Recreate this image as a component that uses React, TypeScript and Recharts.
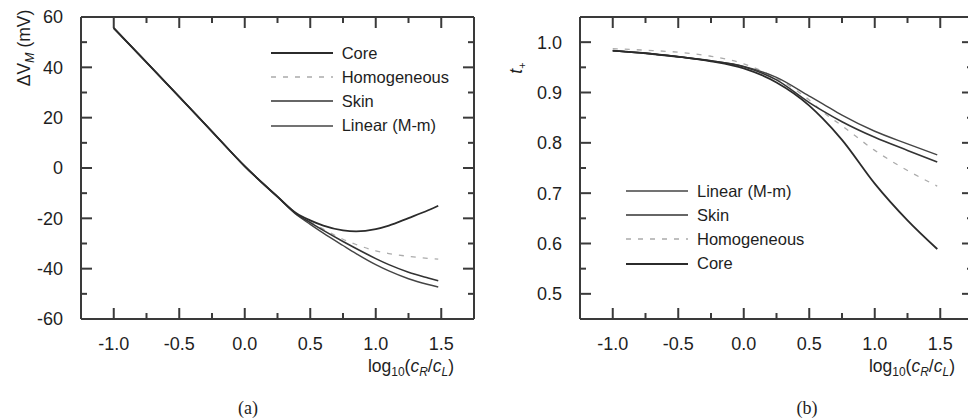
import React from 'react';
import { LineChart, Line, XAxis, YAxis, Legend } from 'recharts';

const FONT = '"Liberation Sans", Arial, Helvetica, sans-serif';
const INK = '#3a3a3a';
const TXT = '#1e1e1e';

// ---------- Panel (a): ΔV_M vs log10(cR/cL) ----------
const xA = [-1, -0.75, -0.5, -0.25, 0, 0.25, 0.4, 0.5, 0.6, 0.75, 0.85, 1.0, 1.1, 1.25, 1.4, 1.477];
const coreA = [55.6, 42.0, 28.3, 14.5, 0.7, -11.4, -18.2, -20.8, -22.9, -24.8, -25.2, -24.3, -22.9, -19.9, -16.8, -15.0];
const homogA = [55.6, 42.0, 28.3, 14.5, 0.7, -11.4, -18.4, -21.4, -24.3, -28.3, -30.4, -32.9, -34.0, -35.1, -35.9, -36.2];
const skinA = [55.6, 42.0, 28.3, 14.5, 0.7, -11.4, -18.5, -21.7, -24.8, -29.2, -32.0, -36.0, -38.4, -41.4, -43.7, -44.8];
const linearA = [55.6, 42.0, 28.3, 14.5, 0.7, -11.5, -18.8, -22.4, -25.9, -30.8, -34.0, -38.4, -40.9, -44.0, -46.3, -47.3];

// ---------- Panel (b): t+ vs log10(cR/cL) ----------
const xB = [-1, -0.75, -0.5, -0.25, 0, 0.25, 0.5, 0.6, 0.75, 1.0, 1.25, 1.477];
const linearB = [0.983, 0.978, 0.971, 0.963, 0.952, 0.930, 0.893, 0.878, 0.855, 0.823, 0.798, 0.776];
const skinB = [0.983, 0.978, 0.971, 0.963, 0.951, 0.925, 0.880, 0.864, 0.842, 0.811, 0.785, 0.762];
const homogB = [0.987, 0.984, 0.980, 0.972, 0.957, 0.928, 0.885, 0.862, 0.834, 0.785, 0.745, 0.714];
const coreB = [0.983, 0.978, 0.971, 0.962, 0.948, 0.920, 0.874, 0.849, 0.806, 0.719, 0.646, 0.589];

// ---------- ticks ----------
const xTicks = [-1, -0.75, -0.5, -0.25, 0, 0.25, 0.5, 0.75, 1, 1.25, 1.5];
const yTicksA = [-60, -50, -40, -30, -20, -10, 0, 10, 20, 30, 40, 50, 60];
const yTicksB = [0.5, 0.55, 0.6, 0.65, 0.7, 0.75, 0.8, 0.85, 0.9, 0.95, 1.0];

const legendOrderA = ['core', 'homog', 'skin', 'linear'];
const legendOrderB = ['linear', 'skin', 'homog', 'core'];

const dataA = xA.map((x, i) => ({ x, core: coreA[i], homog: homogA[i], skin: skinA[i], linear: linearA[i] }));
const dataB = xB.map((x, i) => ({ x, core: coreB[i], homog: homogB[i], skin: skinB[i], linear: linearB[i] }));

const SERIES: Record<string, { name: string; stroke: string; width: number; dash?: string }> = {
  core: { name: 'Core', stroke: '#2b2b2b', width: 1.8 },
  homog: { name: 'Homogeneous', stroke: '#ababab', width: 1.3, dash: '5 7' },
  skin: { name: 'Skin', stroke: '#333333', width: 1.6 },
  linear: { name: 'Linear (M-m)', stroke: '#454545', width: 1.4 },
};

const MAJ = 11;
const MIN = 6;
const isHalf = (v: number) => Math.abs(v * 2 - Math.round(v * 2)) < 1e-6;

const BottomTick = (p: any) => {
  const v = p.payload.value;
  const major = isHalf(v);
  return (
    <g>
      <line x1={p.x} x2={p.x} y1={p.y} y2={p.y - (major ? MAJ : MIN)} stroke={INK} strokeWidth={2} />
      {major && (
        <text x={p.x} y={p.y + 31} textAnchor="middle" fontSize={18} fontFamily={FONT} fill={TXT}>
          {v.toFixed(1)}
        </text>
      )}
    </g>
  );
};

const TopTick = (p: any) => {
  const major = isHalf(p.payload.value);
  return <line x1={p.x} x2={p.x} y1={p.y} y2={p.y + (major ? MAJ : MIN)} stroke={INK} strokeWidth={2} />;
};

const makeLeftTick = (isMajor: (v: number) => boolean, fmt: (v: number) => string) => (p: any) => {
  const v = p.payload.value;
  const major = isMajor(v);
  return (
    <g>
      <line x1={p.x} x2={p.x + (major ? MAJ : MIN)} y1={p.y} y2={p.y} stroke={INK} strokeWidth={2} />
      {major && (
        <text x={p.x - 18} y={p.y} dy="0.36em" textAnchor="end" fontSize={18} fontFamily={FONT} fill={TXT}>
          {fmt(v)}
        </text>
      )}
    </g>
  );
};

const makeRightTick = (isMajor: (v: number) => boolean) => (p: any) => {
  const major = isMajor(p.payload.value);
  return <line x1={p.x} x2={p.x - (major ? MAJ : MIN)} y1={p.y} y2={p.y} stroke={INK} strokeWidth={2} />;
};

const majA = (v: number) => Math.abs(v % 20) < 1e-6;
const majB = (v: number) => Math.abs(v * 10 - Math.round(v * 10)) < 1e-6;

const makeLegend = (order: string[]) => (props: any) => {
  const payload: any[] = props.payload || [];
  const rows = order
    .map((k) => payload.find((e) => e.dataKey === k))
    .filter(Boolean);
  return (
    <div>
      {rows.map((e: any) => {
        const s = SERIES[e.dataKey];
        return (
          <div key={e.dataKey} style={{ display: 'flex', alignItems: 'center', height: 24.3 }}>
            <svg width={62} height={6} style={{ display: 'block' }}>
              <line x1={0} x2={62} y1={3} y2={3} stroke={s.stroke} strokeWidth={s.width} strokeDasharray={s.dash} />
            </svg>
            <span style={{ marginLeft: 9, fontFamily: FONT, fontSize: 16.5, color: TXT, lineHeight: '24.3px', whiteSpace: 'nowrap' }}>
              {e.value}
            </span>
          </div>
        );
      })}
    </div>
  );
};

const axisLine = { stroke: INK, strokeWidth: 2 };

function renderLines(keys: string[]) {
  return keys.map((k) => {
    const s = SERIES[k];
    return (
      <Line
        key={k}
        xAxisId="b"
        yAxisId="l"
        type="monotone"
        dataKey={k}
        name={s.name}
        stroke={s.stroke}
        strokeWidth={s.width}
        strokeDasharray={s.dash}
        dot={false}
        activeDot={false}
        isAnimationActive={false}
      />
    );
  });
}

function Axes(yDomain: number[], yTicks: number[], isMajor: (v: number) => boolean, fmt: (v: number) => string) {
  return [
    <XAxis key="xb" xAxisId="b" type="number" dataKey="x" domain={[-1.25, 1.75]} ticks={xTicks} interval={0}
      tickLine={false} tickSize={0} tickMargin={0} height={1} axisLine={axisLine} tick={BottomTick} allowDataOverflow />,
    <XAxis key="xt" xAxisId="t" orientation="top" type="number" dataKey="x" domain={[-1.25, 1.75]} ticks={xTicks} interval={0}
      tickLine={false} tickSize={0} tickMargin={0} height={1} axisLine={axisLine} tick={TopTick} allowDataOverflow />,
    <YAxis key="yl" yAxisId="l" type="number" domain={yDomain} ticks={yTicks} interval={0}
      tickLine={false} tickSize={0} tickMargin={0} width={1} axisLine={axisLine} tick={makeLeftTick(isMajor, fmt)} allowDataOverflow />,
    <YAxis key="yr" yAxisId="r" orientation="right" type="number" domain={yDomain} ticks={yTicks} interval={0}
      tickLine={false} tickSize={0} tickMargin={0} width={1} axisLine={axisLine} tick={makeRightTick(isMajor)} allowDataOverflow />,
  ];
}

export default function App() {
  return (
    <div style={{ position: 'fixed', left: 0, top: 0, width: 968, height: 420, overflow: 'hidden', background: '#fff' }}>
      <div style={{ position: 'absolute', left: 0, top: 0 }}>
        <LineChart width={490} height={420} data={dataA} margin={{ top: 16, right: 15, bottom: 100, left: 80 }}>
          {Axes([-60, 60], yTicksA, majA, (v) => String(v))}
          {renderLines(['homog', 'linear', 'skin', 'core'])}
          <Legend layout="vertical" align="center" verticalAlign="middle" content={makeLegend(legendOrderA)}
            wrapperStyle={{ top: 40.5, left: 270.7, width: 'auto', height: 'auto', margin: 0, padding: 0 }} />
        </LineChart>
      </div>
      <div style={{ position: 'absolute', left: 490, top: 0 }}>
        <LineChart width={500} height={420} data={dataB} margin={{ top: 16, right: 16, bottom: 100, left: 89 }}>
          {Axes([0.45, 1.05], yTicksB, majB, (v) => v.toFixed(1))}
          {renderLines(['homog', 'linear', 'skin', 'core'])}
          <Legend layout="vertical" align="center" verticalAlign="middle" content={makeLegend(legendOrderB)}
            wrapperStyle={{ top: 178.5, left: 136, width: 'auto', height: 'auto', margin: 0, padding: 0 }} />
        </LineChart>
      </div>
      <svg width={968} height={420} style={{ position: 'absolute', left: 0, top: 0, pointerEvents: 'none' }}>
        <g fontFamily={FONT} fill={TXT} fontSize={17.5}>
          <text transform="translate(24,48) rotate(-90)" textAnchor="middle" dy="0.35em">
            ΔV<tspan fontStyle="italic" fontSize={12.5} dy={4}>M</tspan><tspan dy={-4}> (mV)</tspan>
          </text>
          <text transform="translate(516,68) rotate(-90)" textAnchor="middle" dy="0.35em">
            <tspan fontStyle="italic">t</tspan><tspan fontSize={11} dy={4}>+</tspan>
          </text>
          <text x={454} y={372} textAnchor="end">
            log<tspan fontSize={12} dy={4}>10</tspan><tspan dy={-4}>(</tspan><tspan fontStyle="italic">c</tspan><tspan fontStyle="italic" fontSize={12} dy={4}>R</tspan><tspan dy={-4}>/</tspan><tspan fontStyle="italic">c</tspan><tspan fontStyle="italic" fontSize={12} dy={4}>L</tspan><tspan dy={-4}>)</tspan>
          </text>
          <text x={955} y={372} textAnchor="end">
            log<tspan fontSize={12} dy={4}>10</tspan><tspan dy={-4}>(</tspan><tspan fontStyle="italic">c</tspan><tspan fontStyle="italic" fontSize={12} dy={4}>R</tspan><tspan dy={-4}>/</tspan><tspan fontStyle="italic">c</tspan><tspan fontStyle="italic" fontSize={12} dy={4}>L</tspan><tspan dy={-4}>)</tspan>
          </text>
        </g>
        <g fontFamily='"Liberation Serif", "Times New Roman", serif' fill={TXT} fontSize={18}>
          <text x={248} y={414} textAnchor="middle">(a)</text>
          <text x={807} y={414} textAnchor="middle">(b)</text>
        </g>
      </svg>
    </div>
  );
}
